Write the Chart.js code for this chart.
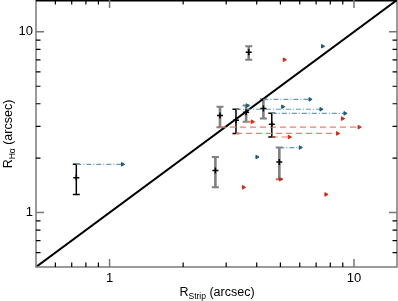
<!DOCTYPE html>
<html>
<head>
<meta charset="utf-8">
<script src="https://cdn.jsdelivr.net/npm/chart.js@4/dist/chart.umd.min.js"></script>
<style>
html,body{margin:0;padding:0;background:#fff;}
canvas{display:block;}
</style>
</head>
<body>
<canvas id="c" width="398" height="301"></canvas>
<script>
// ---- data ----
const xVal   = [0.731, 2.71, 2.83, 3.29, 3.62, 4.26, 4.61, 4.95, 3.71];
const yVal   = [1.56, 1.71, 3.44, 3.24, 3.59, 3.77, 3.08, 1.905, 7.70];
const yLo    = [1.26, 1.38, 2.97, 2.74, 3.18, 3.31, 2.62, 1.53, 7.01];
const yHi    = [1.85, 2.03, 3.85, 3.73, 3.91, 4.23, 3.54, 2.29, 8.32];
const barKind = ['black','gray','gray','black','gray','gray','black','gray','gray'];
const blueX  = [1.13, 4.01, 5.11, 7.33, 3.66, 6.61, 9.19, 6.03, 7.44];
const redX   = [7.68, 3.53, 10.5, 8.57, 3.84, 8.98, 5.44, 5.00, 5.19];
const blueLine = [true, false, false, true, false, true, true, true, false];
const redLine  = [false, false, true, true, true, false, true, false, false];
const tickValues = [0.6,0.7,0.8,0.9,1,2,3,4,5,6,7,8,9,10];
const labeledTicks = [1, 10];
const axisMin = 0.5, axisMax = 15;
const xTitle = {main:'R', sub:'Strip', rest:' (arcsec)'};
const yTitle = {main:'R', sub:'H\u03b1', rest:' (arcsec)'};

const FONT = 'Liberation Sans, Arial, Helvetica, sans-serif';
const BLUE = '#1d5c7c', BLUE_LINE = '#6a9ab3';
const RED = '#e0230f', RED_LINE = '#ef7d6c';

const datasets = [];
datasets.push({type:'line', data:[{x:axisMin,y:axisMin},{x:axisMax,y:axisMax}],
  borderColor:'#000', borderWidth:2, pointRadius:0, order:5});
xVal.forEach((x,i)=>{
  if (blueLine[i]) datasets.push({type:'line', data:[{x:x,y:yHi[i]},{x:blueX[i],y:yHi[i]}],
    borderColor:BLUE_LINE, borderWidth:1.2, borderDash:[5,2,1,2], pointRadius:0, order:4});
  if (redLine[i]) datasets.push({type:'line', data:[{x:x,y:yLo[i]},{x:redX[i],y:yLo[i]}],
    borderColor:RED_LINE, borderWidth:1.2, borderDash:[6,4], pointRadius:0, order:4});
});
datasets.push({type:'scatter', data:blueX.map((x,i)=>({x:x,y:yHi[i]})),
  pointStyle:'triangle', rotation:90, pointRadius:2.1, backgroundColor:BLUE, borderColor:BLUE, borderWidth:1, order:2});
datasets.push({type:'scatter', data:redX.map((x,i)=>({x:x,y:yLo[i]})),
  pointStyle:'triangle', rotation:90, pointRadius:2.1, backgroundColor:RED, borderColor:RED, borderWidth:1, order:2});
datasets.push({type:'scatter', data:xVal.map((x,i)=>({x:x,y:yVal[i]})),
  pointStyle:'cross', pointRadius:3, borderColor:'#000', borderWidth:1.5, order:1});

const decor = {
  id:'decor',
  beforeDatasetsDraw(chart){
    const {ctx, chartArea:a, scales:{x:sx, y:sy}} = chart;
    ctx.save();
    // error bars
    xVal.forEach((x,i)=>{
      const px = sx.getPixelForValue(x);
      const p1 = sy.getPixelForValue(yLo[i]), p2 = sy.getPixelForValue(yHi[i]);
      const black = barKind[i]==='black';
      ctx.strokeStyle = black ? '#000' : '#808080';
      ctx.lineWidth = black ? 1.5 : 2.6;
      ctx.beginPath();
      ctx.moveTo(px,p1); ctx.lineTo(px,p2);
      ctx.stroke();
      ctx.lineWidth = black ? 1.5 : 2;
      ctx.beginPath();
      ctx.moveTo(px-3.5,p1); ctx.lineTo(px+3.5,p1);
      ctx.moveTo(px-3.5,p2); ctx.lineTo(px+3.5,p2);
      ctx.stroke();
    });
    ctx.restore();
  },
  afterDraw(chart){
    const {ctx, chartArea:a, scales:{x:sx, y:sy}} = chart;
    ctx.save();
    // frame
    ctx.lineWidth = 1.5;
    ctx.strokeStyle = '#7a7a7a';
    ctx.beginPath();
    ctx.moveTo(a.left, a.top); ctx.lineTo(a.left, a.bottom); ctx.lineTo(a.right, a.bottom); ctx.lineTo(a.right, a.top);
    ctx.stroke();
    ctx.strokeStyle = '#000';
    ctx.beginPath(); ctx.moveTo(a.left, a.top+0.75); ctx.lineTo(a.right, a.top+0.75); ctx.stroke();
    // inner ticks on all four sides
    tickValues.forEach(v=>{
      const major = labeledTicks.includes(v);
      const L = major ? 8 : 4.5;
      ctx.strokeStyle = major ? '#777' : '#000';
      ctx.lineWidth = major ? 1.5 : 1.2;
      const px = sx.getPixelForValue(v), py = sy.getPixelForValue(v);
      ctx.beginPath();
      ctx.moveTo(px, a.bottom); ctx.lineTo(px, a.bottom-L);
      ctx.moveTo(px, a.top); ctx.lineTo(px, a.top+L);
      ctx.moveTo(a.left, py); ctx.lineTo(a.left+L, py);
      ctx.moveTo(a.right, py); ctx.lineTo(a.right-L, py);
      ctx.stroke();
    });
    // axis titles with subscripts
    const drawTitle = (t, cx, cy, rot) => {
      ctx.save();
      ctx.translate(cx, cy);
      ctx.rotate(rot);
      ctx.fillStyle = '#000';
      ctx.textBaseline = 'alphabetic';
      ctx.font = '12.5px ' + FONT;
      const w1 = ctx.measureText(t.main).width;
      const w3 = ctx.measureText(t.rest).width;
      ctx.font = '8.5px ' + FONT;
      const w2 = ctx.measureText(t.sub).width;
      let x0 = -(w1+w2+w3)/2;
      ctx.font = '12.5px ' + FONT;
      ctx.fillText(t.main, x0, 4.5);
      ctx.font = '8.5px ' + FONT;
      ctx.fillText(t.sub, x0+w1, 7.5);
      ctx.font = '12.5px ' + FONT;
      ctx.fillText(t.rest, x0+w1+w2, 4.5);
      ctx.restore();
    };
    drawTitle(xTitle, 217, 291, 0);
    drawTitle(yTitle, 7, 134, -Math.PI/2);
    ctx.restore();
  }
};

const tickCfg = {
  autoSkip:false, maxRotation:0, color:'#000',
  font:{family:FONT, size:13},
  callback:(v)=> labeledTicks.includes(v) ? String(v) : ''
};

new Chart(document.getElementById('c'), {
  data:{datasets},
  options:{
    responsive:false, animation:false,
    layout:{autoPadding:false, padding:{top:0, right:1, left:0, bottom:0}},
    plugins:{legend:{display:false}, tooltip:{enabled:false}},
    scales:{
      x:{type:'logarithmic', position:'bottom', min:axisMin, max:axisMax,
        grid:{display:false, drawTicks:false}, border:{display:false},
        afterBuildTicks:(s)=>{ s.ticks = tickValues.map(v=>({value:v})); },
        afterFit:(s)=>{ s.height = 34; s.paddingLeft = 0; s.paddingRight = 0; },
        ticks:Object.assign({padding:4}, tickCfg)},
      y:{type:'logarithmic', position:'left', min:axisMin, max:axisMax,
        grid:{display:false, drawTicks:false}, border:{display:false},
        afterBuildTicks:(s)=>{ s.ticks = tickValues.map(v=>({value:v})); },
        afterFit:(s)=>{ s.width = 36; s.paddingTop = 0; s.paddingBottom = 0; },
        ticks:Object.assign({padding:3}, tickCfg)}
    }
  },
  plugins:[decor]
});
</script>
</body>
</html>
